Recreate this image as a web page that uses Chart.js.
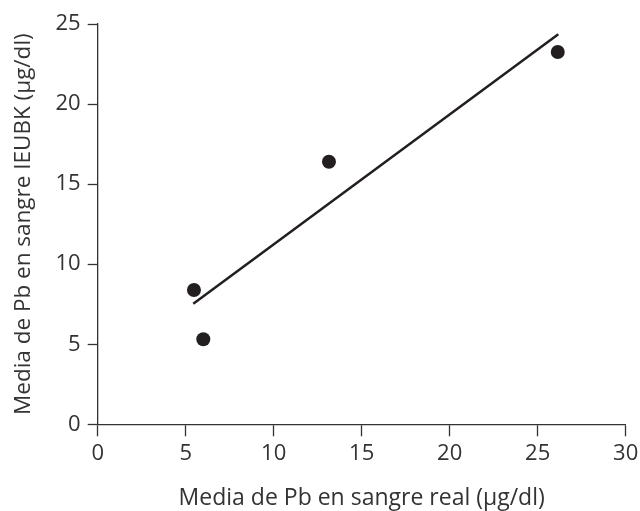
<!DOCTYPE html>
<html>
<head>
<meta charset="utf-8">
<script src="https://cdn.jsdelivr.net/npm/chart.js@4"></script>
<style>
  html, body { margin: 0; padding: 0; background: #fff; }
  #wrap { width: 640px; height: 511px; }
</style>
</head>
<body>
<div id="wrap"><canvas id="myChart" width="640" height="511"></canvas></div>
<script>
// measured values
const realX = [5.47, 6.0, 13.14, 26.14]
const ieubkY = [8.39, 5.31, 16.40, 23.25]
// fitted line ends
const fitX = [5.43, 26.17]
const fitY = [7.53, 24.36]
const xTicks = [0, 5, 10, 15, 20, 25, 30]
const yTicks = [0, 5, 10, 15, 20, 25]

const ink = '#231f20'
const fontFam = '"Open Sans", sans-serif'

const pts = realX.map((x, i) => ({ x: x, y: ieubkY[i] }))
const fit = fitX.map((x, i) => ({ x: x, y: fitY[i] }))

let ctx = document.getElementById('myChart').getContext('2d')
let myChart = new Chart(ctx, {
    type: 'scatter',
    data: {
        datasets: [{
            data: fit,
            showLine: true,
            borderColor: ink,
            borderWidth: 2.5,
            pointRadius: 0,
            fill: false
        }, {
            data: pts,
            backgroundColor: ink,
            borderColor: ink,
            pointRadius: 7,
            borderWidth: 0
        }]
    },
    options: {
        responsive: false,
        animation: false,
        layout: { padding: { top: 24, right: 14.3, left: 0, bottom: 0 } },
        plugins: { legend: { display: false }, tooltip: { enabled: false } },
        scales: {
            x: {
                type: 'linear',
                min: 0, max: 30,
                afterBuildTicks: s => { s.ticks = xTicks.map(v => ({ value: v })) },
                afterFit: s => { s.height = 86.7; s.paddingRight = 0; s.paddingLeft = 0 },
                border: { color: '#333', width: 1.3 },
                grid: { drawOnChartArea: false, drawTicks: true, tickLength: 12, tickColor: '#333', tickWidth: 1.3 },
                ticks: { color: '#333', padding: 4, font: { family: fontFam, size: 22 }, maxRotation: 0 },
                title: { display: true, text: 'Media de Pb en sangre real (\u03bcg/dl)', color: '#333',
                         font: { family: fontFam, size: 23, lineHeight: 1 }, padding: { bottom: 1 } }
            },
            y: {
                type: 'linear',
                min: 0, max: 25,
                afterBuildTicks: s => { s.ticks = yTicks.map(v => ({ value: v })) },
                afterFit: s => { s.width = 97.7; s.paddingTop = 0; s.paddingBottom = 0 },
                border: { color: '#333', width: 1.3 },
                grid: { drawOnChartArea: false, drawTicks: true, tickLength: 10, tickColor: '#333', tickWidth: 1.3 },
                ticks: { color: '#333', padding: 7, font: { family: fontFam, size: 22 } },
                title: { display: true, text: 'Media de Pb en sangre IEUBK (\u03bcg/dl)', color: '#333',
                         font: { family: fontFam, size: 22.5, lineHeight: 1 }, padding: { top: 12 } }
            }
        }
    }
})
</script>
</body>
</html>
